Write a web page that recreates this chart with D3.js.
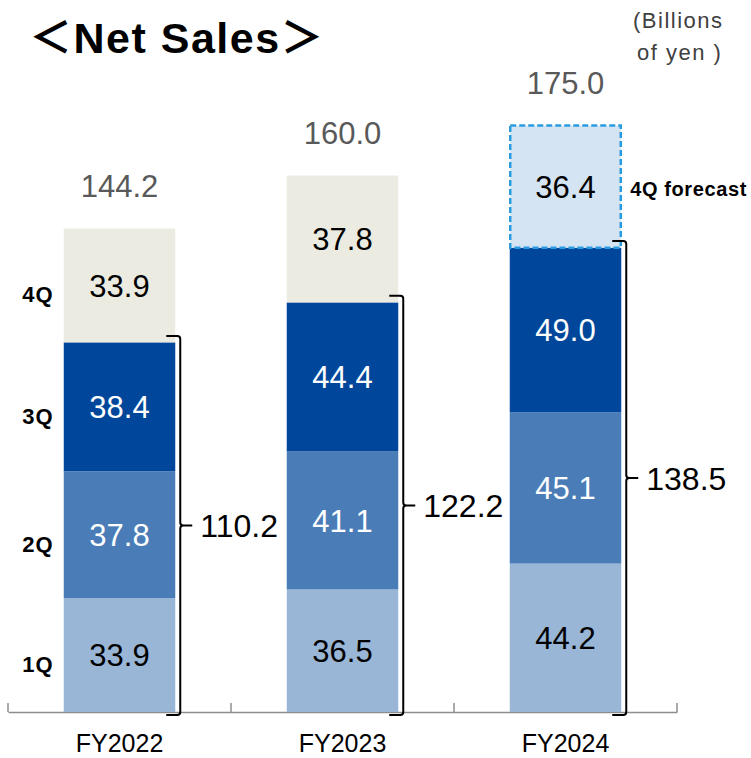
<!DOCTYPE html>
<html>
<head>
<meta charset="utf-8">
<script src="https://cdn.jsdelivr.net/npm/d3@7"></script>
<style>
  html, body { margin: 0; padding: 0; background: #fff; }
  svg { display: block; font-family: "Liberation Sans", Arial, "Noto Sans CJK JP", sans-serif; }
</style>
</head>
<body>
<svg id="chart" width="751" height="758"></svg>
<script>
// Net sales by quarter, billions of yen
const years = ["FY2022", "FY2023", "FY2024"];
const quarters = ["1Q", "2Q", "3Q", "4Q"];
const q1 = [33.9, 36.5, 44.2];
const q2 = [37.8, 41.1, 45.1];
const q3 = [38.4, 44.4, 49.0];
const q4 = [33.9, 37.8, 36.4];
const isForecast4Q = [false, false, true];
const totals = [144.2, 160.0, 175.0];
const through3Q = [110.2, 122.2, 138.5];

const svg = d3.select("#chart");
const base = 712;

const x = d3.scaleBand().domain(years).range([8, 677]).paddingInner(0.5).paddingOuter(0.25);
const y = d3.scaleLinear().domain([0, 175]).range([base, 124.5]);

const rows = years.map((yr, i) => ({ year: yr, "1Q": q1[i], "2Q": q2[i], "3Q": q3[i], "4Q": q4[i] }));
const series = d3.stack().keys(quarters)(rows);

const fill = { "1Q": "#99b6d7", "2Q": "#4a7db7", "3Q": "#00479b", "4Q": "#ecebe2" };
const textFill = { "1Q": "#000", "2Q": "#fff", "3Q": "#fff", "4Q": "#000" };

// Axis line with tick marks at band boundaries
const axisG = svg.append("g").attr("transform", `translate(0,${base})`);
axisG.call(d3.axisBottom(x).tickSize(0).tickFormat(""));
axisG.select(".domain").attr("stroke", "#8e8e8e").attr("stroke-width", 1.5);
const step = x.step();
const bounds = d3.range(years.length + 1).map(k => x.range()[0] + k * step);
axisG.selectAll("line.bnd").data(bounds).join("line")
  .attr("class", "bnd")
  .attr("x1", d => d).attr("x2", d => d)
  .attr("y1", 0).attr("y2", -9)
  .attr("stroke", "#8e8e8e").attr("stroke-width", 1.5);

// Category labels
axisG.selectAll("text.cat").data(years).join("text")
  .attr("class", "cat")
  .attr("x", d => x(d) + x.bandwidth() / 2)
  .attr("y", 31)
  .attr("dy", "0.36em")
  .attr("text-anchor", "middle")
  .attr("font-size", 25)
  .attr("fill", "#000")
  .text(d => d);

// Stacked segments
const layers = svg.append("g").selectAll("g").data(series).join("g");
layers.each(function (s) {
  const key = s.key;
  const g = d3.select(this);
  s.forEach((seg, i) => {
    const x0 = x(years[i]);
    const y0 = y(seg[1]), y1 = y(seg[0]);
    const fc = key === "4Q" && isForecast4Q[i];
    if (fc) {
      g.append("rect")
        .attr("x", x0 + 0.5).attr("y", y0)
        .attr("width", x.bandwidth() - 1).attr("height", y1 - y0)
        .attr("fill", "#d4e4f3")
        .attr("stroke", "#2a9be0").attr("stroke-width", 2.5)
        .attr("stroke-dasharray", "6,3");
    } else {
      g.append("rect")
        .attr("x", x0).attr("y", y0)
        .attr("width", x.bandwidth()).attr("height", y1 - y0)
        .attr("fill", fill[key]);
    }
    g.append("text")
      .attr("x", x0 + x.bandwidth() / 2)
      .attr("y", (y0 + y1) / 2)
      .attr("dy", "0.36em")
      .attr("text-anchor", "middle")
      .attr("font-size", 31)
      .attr("fill", textFill[key])
      .text(d3.format(".1f")(seg.data[key]));
  });
});

// Annual totals above each bar
svg.append("g").selectAll("text").data(totals).join("text")
  .attr("x", (d, i) => x(years[i]) + x.bandwidth() / 2)
  .attr("y", d => y(d) - 42)
  .attr("dy", "0.36em")
  .attr("text-anchor", "middle")
  .attr("font-size", 31)
  .attr("fill", "#595959")
  .text(d => d3.format(".1f")(d));

// Braces spanning 1Q-3Q with cumulative value
const braces = svg.append("g");
through3Q.forEach((v, i) => {
  const bx = x(years[i]) + x.bandwidth() + 5;
  const top = y(v) - 6;
  const bot = base + 3;
  const mid = (top + bot) / 2;
  const r = 3;
  const p = d3.path();
  p.moveTo(bx - 14, top);
  p.lineTo(bx - r, top);
  p.quadraticCurveTo(bx, top, bx, top + r);
  p.lineTo(bx, mid - r);
  p.quadraticCurveTo(bx, mid, bx + r, mid);
  p.lineTo(bx + 12, mid);
  p.moveTo(bx + r, mid);
  p.quadraticCurveTo(bx, mid, bx, mid + r);
  p.lineTo(bx, bot - r);
  p.quadraticCurveTo(bx, bot, bx - r, bot);
  p.lineTo(bx - 14, bot);
  braces.append("path")
    .attr("d", p.toString())
    .attr("fill", "none")
    .attr("stroke", "#000")
    .attr("stroke-width", 2);
  braces.append("text")
    .attr("x", bx + 20)
    .attr("y", mid)
    .attr("dy", "0.36em")
    .attr("font-size", 32)
    .attr("fill", "#000")
    .text(d3.format(".1f")(v));
});

// Quarter labels beside the first bar
svg.append("g").selectAll("text").data(series).join("text")
  .attr("x", 38)
  .attr("y", s => (y(s[0][0]) + y(s[0][1])) / 2 + 9)
  .attr("dy", "0.36em")
  .attr("text-anchor", "middle")
  .attr("font-size", 22)
  .attr("font-weight", "bold")
  .attr("letter-spacing", 1)
  .attr("fill", "#000")
  .text(s => s.key);

// Forecast note
const fi = isForecast4Q.indexOf(true);
const fs = series[3][fi];
svg.append("text")
  .attr("x", x(years[fi]) + x.bandwidth() + 9)
  .attr("y", (y(fs[0]) + y(fs[1])) / 2 + 2)
  .attr("dy", "0.36em")
  .attr("font-size", 20)
  .attr("font-weight", "bold")
  .attr("letter-spacing", 0.6)
  .attr("fill", "#000")
  .text("4Q forecast");

// Title
svg.append("text")
  .attr("x", 29).attr("y", 38)
  .attr("dy", "0.36em")
  .attr("font-size", 43)
  .attr("font-weight", "bold")
  .attr("letter-spacing", 1.5)
  .attr("fill", "#000")
  .text("＜Net Sales＞");

// Unit note
const unit = svg.append("text")
  .attr("font-size", 22)
  .attr("letter-spacing", 1.5)
  .attr("fill", "#404040");
unit.append("tspan").attr("x", 633).attr("y", 20).attr("dy", "0.36em").text("(Billions");
unit.append("tspan").attr("x", 637).attr("y", 52).attr("dy", "0.36em").text("of yen )");
</script>
</body>
</html>
